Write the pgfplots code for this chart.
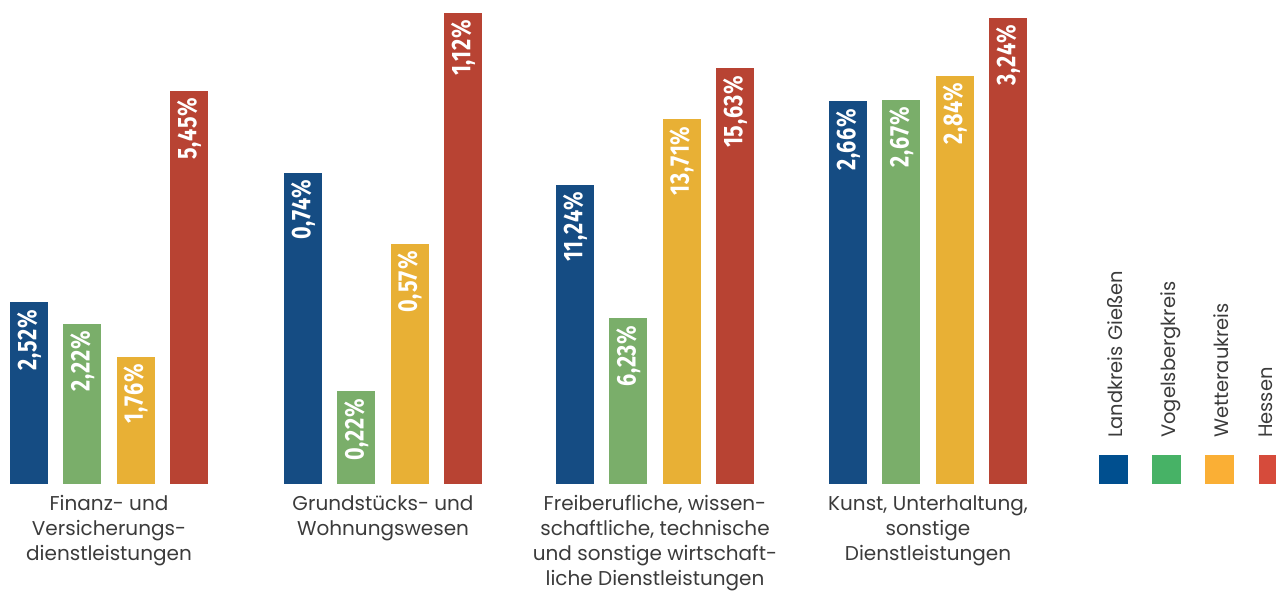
\documentclass[border=0pt]{standalone}
\usepackage{fontspec}
\setmainfont{Poppins}
\newfontfamily\barfont[FakeStretch=0.8, LetterSpace=3]{Fira Sans}
\usepackage{pgfplots}
\pgfplotsset{compat=1.18}
\definecolor{cB}{RGB}{21,76,131}
\definecolor{cG}{RGB}{122,174,106}
\definecolor{cY}{RGB}{232,176,53}
\definecolor{cR}{RGB}{184,67,51}
\definecolor{lB}{RGB}{0,79,143}
\definecolor{lG}{RGB}{71,178,102}
\definecolor{lY}{RGB}{250,175,53}
\definecolor{lR}{RGB}{214,75,59}
\definecolor{txt}{RGB}{59,59,59}
\pgfplotsset{grp/.style={
  ybar, scale only axis, width=213.33pt, height=470pt,
  xmin=-0.5, xmax=3.5, ymin=0, hide axis, clip=false,
  bar width=38pt, anchor=south west,
  nodes near coords, point meta=explicit symbolic,
  every node near coord/.append style={yshift=-7pt, rotate=90, anchor=east,
     inner sep=0pt, text=white, font=\barfont\bfseries\fontsize{27}{27}\selectfont},
  every axis plot/.append style={draw=none, bar shift=0pt},
}}
\newcommand{\cat}[1]{\node[anchor=north, yshift=-11pt, inner sep=0pt, align=center,
  text=txt, font=\fontsize{20}{25}\selectfont] at (rel axis cs:0.5,0) {#1};}
\begin{document}
\begin{tikzpicture}
\useasboundingbox (0,0) rectangle (1276pt,590pt);
% Group 1
\begin{axis}[grp, at={(2.33pt,106pt)}, ymax=6.52]
\addplot[fill=cB] coordinates {(0,2.52) [2,52\%]};
\addplot[fill=cG] coordinates {(1,2.22) [2,22\%]};
\addplot[fill=cY] coordinates {(2,1.76) [1,76\%]};
\addplot[fill=cR] coordinates {(3,5.45) [5,45\%]};
\cat{Finanz- und\\Versicherungs-\\dienstleistungen}
\end{axis}
% Group 2
\begin{axis}[grp, at={(276.33pt,106pt)}, ymax=1.117]
\addplot[fill=cB] coordinates {(0,0.74) [0,74\%]};
\addplot[fill=cG] coordinates {(1,0.22) [0,22\%]};
\addplot[fill=cY] coordinates {(2,0.57) [0,57\%]};
\addplot[fill=cR] coordinates {(3,1.12) [1,12\%]};
\cat{Grundstücks- und\\Wohnungswesen}
\end{axis}
% Group 3
\begin{axis}[grp, at={(548.33pt,106pt)}, ymax=17.67]
\addplot[fill=cB] coordinates {(0,11.24) [11,24\%]};
\addplot[fill=cG] coordinates {(1,6.23) [6,23\%]};
\addplot[fill=cY] coordinates {(2,13.71) [13,71\%]};
\addplot[fill=cR] coordinates {(3,15.63) [15,63\%]};
\cat{Freiberufliche, wissen-\\schaftliche, technische\\und sonstige wirtschaft-\\liche Dienstleistungen}
\end{axis}
% Group 4
\begin{axis}[grp, at={(821.33pt,106pt)}, ymax=3.268]
\addplot[fill=cB] coordinates {(0,2.66) [2,66\%]};
\addplot[fill=cG] coordinates {(1,2.67) [2,67\%]};
\addplot[fill=cY] coordinates {(2,2.84) [2,84\%]};
\addplot[fill=cR] coordinates {(3,3.24) [3,24\%]};
\cat{Kunst, Unterhaltung,\\sonstige\\Dienstleistungen}
\end{axis}
% Legend
\fill[lB] (1099pt,106pt) rectangle (1128pt,135pt);
\fill[lG] (1152pt,106pt) rectangle (1181pt,135pt);
\fill[lY] (1205pt,106pt) rectangle (1234pt,135pt);
\fill[lR] (1259pt,106pt) rectangle (1288pt,135pt);
\begin{scope}[every node/.style={rotate=90, anchor=base west, inner sep=0pt, text=txt, font=\fontsize{19.5}{24}\selectfont}]
\node at (1122pt,152pt) {Landkreis Gießen};
\node at (1175pt,152pt) {Vogelsbergkreis};
\node at (1228pt,152pt) {Wetteraukreis};
\node at (1272pt,152pt) {Hessen};
\end{scope}
\end{tikzpicture}
\end{document}
